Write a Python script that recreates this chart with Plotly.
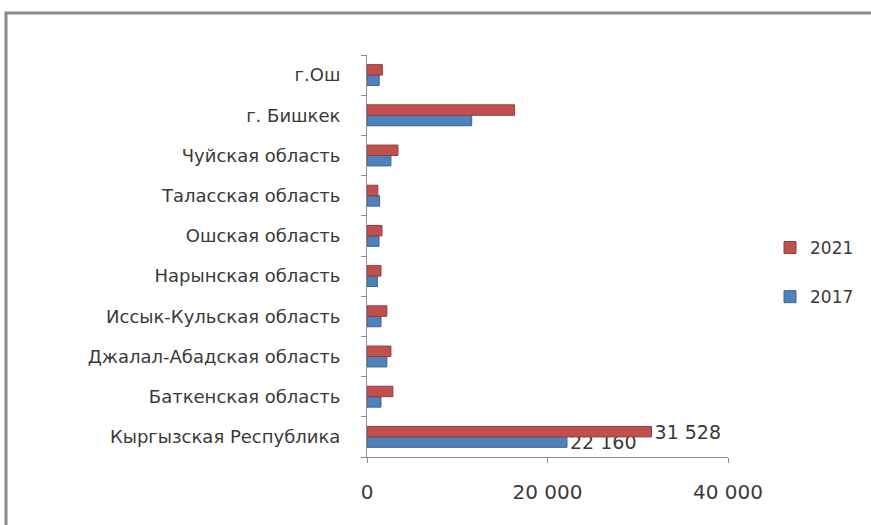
import plotly.graph_objects as go

categories = [
    "Кыргызская Республика",
    "Баткенская область",
    "Джалал-Абадская область",
    "Иссык-Кульская область",
    "Нарынская область",
    "Ошская область",
    "Таласская область",
    "Чуйская область",
    "г. Бишкек",
    "г.Ош",
]
values_2017 = [22160, 1550, 2200, 1550, 1150, 1330, 1400, 2650, 11600, 1350]
values_2021 = [31528, 2870, 2650, 2200, 1550, 1660, 1200, 3430, 16350, 1700]
labels_2017 = ["22 160"] + [""] * 9
labels_2021 = ["31 528"] + [""] * 9
x_ticks = [0, 20000, 40000]
x_ticklabels = ["0", "20 000", "40 000"]

W, H = 871, 525
L, R = 367, 728
T, B = 55, 457

FONT = "DejaVu Sans, sans-serif"
TXT = "#3a3a3a"

fig = go.Figure()
fig.add_trace(go.Bar(
    y=categories, x=values_2017, name="2017", orientation="h",
    marker=dict(color="#4F81BD", line=dict(color="#3A6595", width=1)),
    text=labels_2017, textposition="outside", cliponaxis=False,
    constraintext="none",
    textfont=dict(size=19, color=TXT, family=FONT),
    legendgroup="a", legendrank=2,
))
fig.add_trace(go.Bar(
    y=categories, x=values_2021, name="2021", orientation="h",
    marker=dict(color="#C0504D", line=dict(color="#943C3A", width=1)),
    text=labels_2021, textposition="outside", cliponaxis=False,
    constraintext="none",
    textfont=dict(size=19, color=TXT, family=FONT),
    legendgroup="b", legendrank=1,
))

pw = R - L
ph = B - T
def px2x(px):
    return (px - L) / pw
def py2y(py):
    return (B - py) / ph

fig.add_shape(type="rect", xref="paper", yref="paper",
              x0=px2x(6), x1=px2x(W + 10), y0=py2y(H + 10), y1=py2y(13),
              line=dict(color="#8a8a8a", width=3), layer="below")

fig.update_layout(
    width=W, height=H,
    margin=dict(l=L, r=W - R, t=T, b=H - B, pad=0, autoexpand=False),
    paper_bgcolor="white", plot_bgcolor="white",
    barmode="group", bargap=0.48, bargroupgap=0.0,
    separators=", ",
    font=dict(family=FONT, size=15, color=TXT),
    showlegend=True,
    legend=dict(x=px2x(770), y=py2y(230), xanchor="left", yanchor="top",
                traceorder="grouped", tracegroupgap=24,
                font=dict(size=17, color=TXT, family=FONT),
                itemwidth=30, bgcolor="rgba(0,0,0,0)"),
    xaxis=dict(range=[0, 40000], tickvals=x_ticks, ticktext=x_ticklabels,
               automargin=False,
               showgrid=False, zeroline=False, showline=True,
               linecolor="#8c8c8c", linewidth=1, ticks="outside",
               ticklen=5, tickcolor="#8c8c8c", ticklabelstandoff=12,
               tickfont=dict(size=20, color=TXT, family=FONT)),
    yaxis=dict(categoryorder="array", categoryarray=categories,
               automargin=False,
               showgrid=False, zeroline=False, showline=True,
               linecolor="#8c8c8c", linewidth=1, ticks="outside",
               tickson="boundaries", ticklen=5, tickcolor="#8c8c8c",
               ticklabelstandoff=22,
               tickfont=dict(size=18, color=TXT, family=FONT)),
)

fig.write_html(
    "out.html",
    config={"displayModeBar": False},
    post_script="document.body.style.margin='0px';document.body.style.overflow='hidden';",
)
